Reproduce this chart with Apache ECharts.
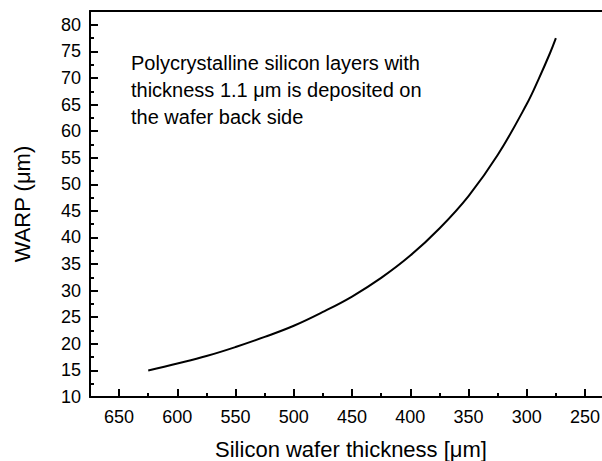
<!DOCTYPE html>
<html><head><meta charset="utf-8">
<script src="https://cdn.jsdelivr.net/npm/echarts@6/dist/echarts.min.js"></script>
<style>html,body{margin:0;padding:0;background:#fff}#c{width:602px;height:461px}</style>
</head><body><div id="c"></div>
<script>
const thickness = [625, 600, 575, 550, 525, 500, 475, 450, 425, 400, 375, 350, 325, 300, 290, 280, 275];
const warp = [15.0, 16.3, 17.7, 19.4, 21.3, 23.4, 26.0, 28.9, 32.4, 36.6, 41.7, 47.8, 55.5, 65.1, 69.7, 74.7, 77.5];
const xMajorTicks = [250, 300, 350, 400, 450, 500, 550, 600, 650];
const xMinorTicks = [275, 325, 375, 425, 475, 525, 575, 625];
const yMajorTicks = [10, 15, 20, 25, 30, 35, 40, 45, 50, 55, 60, 65, 70, 75, 80];
const yMinorTicks = [12.5, 17.5, 22.5, 27.5, 32.5, 37.5, 42.5, 47.5, 52.5, 57.5, 62.5, 67.5, 72.5, 77.5];
const xTitle = 'Silicon wafer thickness [\u03bcm]';
const yTitle = 'WARP (\u03bcm)';
const noteLines = ['Polycrystalline silicon layers with', 'thickness 1.1 \u03bcm is deposited on', 'the wafer back side'];

const FONT = '"Liberation Sans", Arial, sans-serif';
const chart = echarts.init(document.getElementById('c'), null, {renderer: 'svg'});
const xBase = {type: 'value', min: 235.4, max: 675, inverse: true, splitLine: {show: false}};
const yBase = {type: 'value', min: 10, max: 82.6, splitLine: {show: false}};
chart.setOption({
  animation: false,
  backgroundColor: '#fff',
  grid: {left: 90, right: 0, top: 11, bottom: 64, outerBoundsMode: 'none', containLabel: false},
  xAxis: [
    Object.assign({}, xBase, {
      position: 'bottom',
      name: xTitle, nameLocation: 'middle', nameGap: 41,
      nameTextStyle: {fontFamily: FONT, fontSize: 22, color: '#000', padding: [0, 0, 0, 10]},
      axisLine: {show: true, lineStyle: {color: '#000', width: 2}},
      axisTick: {show: true, inside: true, length: 8, customValues: xMajorTicks, lineStyle: {color: '#000', width: 2}},
      axisLabel: {show: true, customValues: xMajorTicks, margin: 11, fontFamily: FONT, fontSize: 18, color: '#000'}
    }),
    Object.assign({}, xBase, {
      position: 'bottom',
      axisLine: {show: false},
      axisTick: {show: true, inside: true, length: 4, customValues: xMinorTicks, lineStyle: {color: '#000', width: 2}},
      axisLabel: {show: false}
    }),
    Object.assign({}, xBase, {
      position: 'top',
      axisLine: {show: true, lineStyle: {color: '#000', width: 2}},
      axisTick: {show: false},
      axisLabel: {show: false}
    })
  ],
  yAxis: [
    Object.assign({}, yBase, {
      position: 'left',
      name: yTitle, nameLocation: 'middle', nameGap: 57,
      nameTextStyle: {fontFamily: FONT, fontSize: 22, color: '#000'},
      axisLine: {show: true, lineStyle: {color: '#000', width: 2}},
      axisTick: {show: true, inside: true, length: 8, customValues: yMajorTicks, lineStyle: {color: '#000', width: 2}},
      axisLabel: {show: true, customValues: yMajorTicks, margin: 9, fontFamily: FONT, fontSize: 18, color: '#000'}
    }),
    Object.assign({}, yBase, {
      position: 'left',
      axisLine: {show: false},
      axisTick: {show: true, inside: true, length: 4, customValues: yMinorTicks, lineStyle: {color: '#000', width: 2}},
      axisLabel: {show: false}
    })
  ],
  graphic: [{
    type: 'text', left: 131, top: 49,
    style: {text: noteLines.join('\n'), fontFamily: FONT, fontSize: 20, lineHeight: 27, fill: '#000'}
  }],
  series: [{
    type: 'line',
    xAxisIndex: 0, yAxisIndex: 0,
    data: thickness.map((t, i) => [t, warp[i]]),
    smooth: 0.4,
    showSymbol: false,
    lineStyle: {color: '#000', width: 2}
  }]
});
</script></body></html>
